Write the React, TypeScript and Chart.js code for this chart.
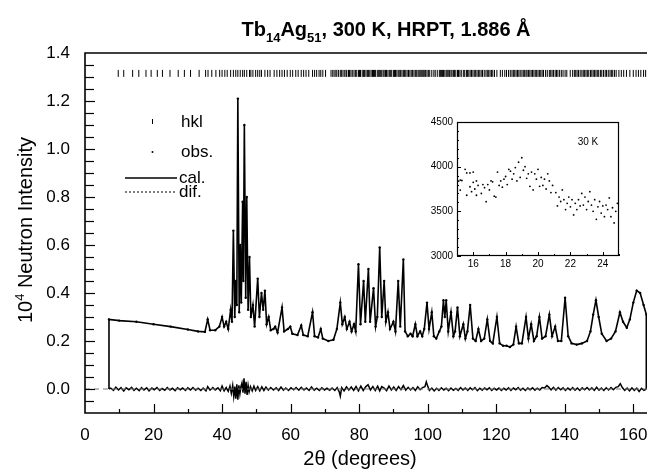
import React, { useEffect, useRef } from "react";
import { Chart, registerables } from "chart.js";
Chart.register(...registerables);

const FONT = "'Liberation Sans', Arial, Helvetica, sans-serif";

// ---------- main axes ----------
const xTickLabels = [0, 20, 40, 60, 80, 100, 120, 140, 160];
const xMinorTicks = [10, 30, 50, 70, 90, 110, 130, 150];
const yTickLabels = [0, 0.2, 0.4, 0.6, 0.8, 1.0, 1.2, 1.4];
const yAllTicks = [-0.05, 0, 0.05, 0.1, 0.15, 0.2, 0.25, 0.3, 0.35, 0.4, 0.45, 0.5, 0.55, 0.6, 0.65, 0.7, 0.75, 0.8, 0.85, 0.9, 0.95, 1.0, 1.05, 1.1, 1.15, 1.2, 1.25, 1.3, 1.35];

// ---------- calculated profile (2θ, intensity /10^4) ----------
const calcX = [7.0, 7.0, 10, 15, 20, 25, 30, 33, 35.0, 35.8, 36.5, 38, 39.2, 40.0, 40.6, 41.2, 41.8, 42.5, 42.9, 43.3, 43.7, 44.0, 44.3, 44.6, 45.0, 45.3, 45.6, 46.0, 46.2, 46.5, 46.9, 47.2, 47.6, 48.0, 48.4, 49.0, 49.5, 50.4, 50.9, 51.5, 52.0, 52.5, 53.0, 53.6, 54.2, 55.0, 55.5, 56.2, 57.5, 58.1, 59.2, 59.9, 60.5, 62, 63.1, 63.7, 65, 66.4, 67.0, 68.0, 68.8, 69.4, 71, 72.5, 73.5, 74.5, 75.1, 75.8, 76.4, 77.2, 77.8, 78.5, 79.0, 79.8, 80.4, 81.3, 81.8, 82.7, 83.2, 84.2, 84.8, 85.3, 86.0, 86.6, 87.3, 87.8, 88.4, 89.0, 90.0, 90.6, 91.4, 92.0, 92.9, 93.4, 94.2, 95.0, 95.6, 96.4, 97.0, 97.8, 98.4, 99.0, 99.8, 100.4, 101.2, 101.8, 102.5, 103.4, 104.0, 104.6, 105.0, 105.4, 106.0, 106.8, 107.5, 108.0, 108.7, 109.4, 110.4, 111.0, 111.6, 112.4, 113.2, 114.0, 114.8, 115.6, 116.5, 117.4, 118.2, 119.0, 120.2, 121.0, 122.0, 123.0, 124.0, 125.0, 125.8, 126.6, 127.5, 128.7, 129.4, 130.2, 131.0, 131.8, 132.6, 133.4, 134.4, 135.5, 136.3, 137.2, 138.0, 139.0, 140.1, 141.0, 142.0, 143.5, 145.0, 146.5, 147.5, 148.3, 149.1, 149.9, 150.8, 152.2, 153.5, 154.8, 156.1, 157.0, 158.1, 159.0, 160.0, 161.0, 162.0, 163.0, 163.8, 163.8];
const calcY = [0.0, 0.29, 0.285, 0.28, 0.27, 0.26, 0.248, 0.24, 0.238, 0.29, 0.245, 0.245, 0.26, 0.30, 0.26, 0.28, 0.25, 0.33, 0.28, 0.66, 0.30, 0.45, 0.35, 1.21, 0.32, 0.60, 0.36, 0.78, 0.45, 1.10, 0.38, 0.80, 0.33, 0.55, 0.30, 0.35, 0.26, 0.46, 0.30, 0.40, 0.33, 0.41, 0.27, 0.30, 0.245, 0.25, 0.26, 0.235, 0.34, 0.24, 0.25, 0.26, 0.23, 0.225, 0.265, 0.225, 0.22, 0.32, 0.22, 0.215, 0.25, 0.21, 0.20, 0.205, 0.25, 0.36, 0.27, 0.30, 0.25, 0.28, 0.24, 0.27, 0.24, 0.52, 0.27, 0.45, 0.28, 0.50, 0.28, 0.42, 0.26, 0.30, 0.59, 0.30, 0.45, 0.28, 0.32, 0.25, 0.28, 0.24, 0.45, 0.26, 0.54, 0.24, 0.22, 0.23, 0.22, 0.27, 0.22, 0.24, 0.22, 0.25, 0.36, 0.25, 0.32, 0.22, 0.21, 0.24, 0.26, 0.37, 0.30, 0.37, 0.24, 0.32, 0.22, 0.24, 0.34, 0.22, 0.27, 0.21, 0.24, 0.35, 0.21, 0.20, 0.25, 0.20, 0.21, 0.29, 0.20, 0.19, 0.30, 0.19, 0.18, 0.18, 0.175, 0.185, 0.26, 0.19, 0.19, 0.30, 0.21, 0.27, 0.20, 0.22, 0.30, 0.21, 0.22, 0.31, 0.22, 0.26, 0.20, 0.20, 0.38, 0.22, 0.19, 0.185, 0.19, 0.20, 0.24, 0.31, 0.37, 0.30, 0.23, 0.20, 0.21, 0.24, 0.32, 0.28, 0.255, 0.29, 0.36, 0.41, 0.40, 0.35, 0.31, 0.0];

// ---------- difference curve ----------
const diffX = [7.0, 7.5, 8.3, 9.0, 9.8, 10.5, 11.3, 12.0, 12.8, 13.6, 14.3, 15.0, 15.8, 16.5, 17.2, 18.0, 18.7, 19.5, 20.2, 21.0, 21.8, 22.5, 23.3, 24.0, 24.8, 25.5, 26.3, 27.0, 27.8, 28.5, 29.3, 30.0, 30.8, 31.5, 32.3, 33.0, 33.8, 34.5, 35.3, 35.8, 36.5, 37.3, 38.0, 38.8, 39.5, 40.0, 40.6, 41.2, 41.8, 42.3, 42.7, 43.1, 43.4, 43.7, 44.0, 44.3, 44.6, 44.9, 45.2, 45.5, 45.8, 46.1, 46.4, 46.7, 47.0, 47.3, 47.6, 47.9, 48.3, 48.8, 49.3, 49.8, 50.4, 51.0, 51.6, 52.2, 52.8, 53.5, 54.2, 55.0, 55.8, 56.5, 57.2, 57.9, 58.6, 59.4, 60.1, 60.9, 61.6, 62.4, 63.1, 63.9, 64.6, 65.4, 66.1, 66.9, 67.6, 68.4, 69.1, 69.9, 70.6, 71.4, 72.1, 72.9, 73.6, 74.2, 74.5, 74.9, 75.6, 76.3, 77.0, 77.7, 78.4, 79.1, 79.8, 80.5, 81.2, 81.9, 82.6, 83.3, 84.0, 84.7, 85.4, 86.0, 86.6, 87.3, 88.0, 88.7, 89.4, 90.1, 90.8, 91.5, 92.2, 92.9, 93.6, 94.3, 95.0, 95.7, 96.4, 97.1, 97.8, 98.5, 99.2, 99.6, 100.0, 100.5, 101.2, 101.9, 102.6, 103.3, 104.0, 104.7, 105.4, 106.1, 106.8, 107.5, 108.2, 108.9, 109.6, 110.3, 111.0, 111.7, 112.4, 113.1, 113.8, 114.5, 115.2, 115.9, 116.6, 117.3, 118.0, 118.7, 119.4, 120.1, 120.8, 121.5, 122.2, 122.9, 123.6, 124.3, 125.0, 125.7, 126.4, 127.1, 127.8, 128.5, 129.2, 129.9, 130.6, 131.3, 132.0, 132.7, 133.4, 134.1, 134.8, 135.3, 136.0, 136.7, 137.4, 138.1, 138.8, 139.5, 140.2, 140.9, 141.6, 142.3, 143.0, 143.7, 144.4, 145.1, 145.8, 146.5, 147.2, 147.9, 148.6, 149.3, 150.0, 150.7, 151.4, 152.1, 152.8, 153.5, 154.2, 154.9, 155.6, 156.2, 156.8, 157.5, 158.2, 158.9, 159.6, 160.3, 161.0, 161.7, 162.4, 163.1, 163.8];
const diffY = [0.0, 0.004, -0.006, 0.008, -0.004, 0.006, -0.008, 0.005, -0.003, 0.007, -0.006, 0.003, -0.007, 0.006, -0.004, 0.005, -0.008, 0.004, -0.003, 0.006, -0.006, 0.002, -0.005, 0.006, -0.004, 0.003, -0.007, 0.005, -0.003, 0.004, -0.006, 0.005, -0.004, 0.006, -0.005, 0.003, -0.006, 0.004, -0.008, 0.01, -0.005, 0.006, -0.004, 0.005, -0.007, 0.012, -0.008, 0.006, -0.01, 0.012, -0.018, 0.015, -0.03, 0.01, -0.04, 0.02, -0.045, 0.015, -0.02, 0.01, 0.025, -0.015, 0.045, -0.02, 0.03, -0.025, 0.015, -0.012, 0.01, -0.008, 0.012, -0.006, 0.01, -0.008, 0.009, -0.006, 0.008, -0.005, 0.006, -0.004, 0.005, -0.006, 0.008, -0.005, 0.004, -0.006, 0.005, -0.003, 0.006, -0.005, 0.007, -0.004, 0.004, -0.006, 0.008, -0.005, 0.003, -0.006, 0.005, -0.004, 0.003, -0.005, 0.004, -0.006, 0.006, -0.012, -0.03, 0.006, -0.008, 0.009, -0.004, 0.008, -0.006, 0.01, -0.008, 0.012, -0.006, 0.009, 0.018, -0.004, 0.01, -0.006, 0.012, -0.008, 0.01, 0.004, -0.007, 0.012, -0.004, 0.008, -0.006, 0.01, -0.003, 0.014, -0.005, 0.007, -0.004, 0.006, -0.006, 0.009, -0.003, 0.006, 0.01, 0.03, 0.012, -0.006, 0.004, -0.008, 0.003, -0.006, 0.005, -0.004, 0.003, -0.007, 0.004, -0.005, 0.002, -0.006, 0.006, -0.004, 0.004, -0.006, 0.005, -0.003, 0.006, -0.007, 0.003, -0.005, 0.004, -0.003, 0.005, -0.006, 0.003, -0.004, 0.004, -0.006, 0.003, -0.004, 0.005, -0.006, 0.004, -0.003, 0.006, -0.005, 0.003, -0.006, 0.004, -0.003, 0.005, -0.005, 0.003, -0.004, 0.006, 0.004, 0.014, 0.008, -0.004, 0.007, -0.005, 0.006, -0.003, 0.005, -0.006, 0.004, -0.004, 0.006, -0.005, 0.004, -0.006, 0.005, -0.003, 0.006, -0.004, 0.005, -0.006, 0.007, -0.005, 0.004, -0.006, 0.005, -0.004, 0.006, -0.003, 0.007, 0.01, 0.022, 0.006, -0.006, 0.004, -0.008, 0.005, -0.006, 0.004, -0.01, 0.003, -0.006, 0.0];

// ---------- Bragg reflection positions (hkl) ----------
const hklLevel = 1.315;
const hklPos = [9.7, 11.3, 13.9, 15.7, 17.8, 19.3, 21.1, 22.6, 24.8, 27.2, 29.0, 30.8, 33.3, 35.2, 35.9, 37.0, 38.2, 39.3, 40.0, 40.8, 41.5, 42.5, 43.3, 44.0, 44.6, 45.3, 46.0, 46.5, 47.2, 48.0, 48.4, 49.0, 49.8, 50.4, 51.0, 51.5, 52.5, 53.3, 54.0, 55.2, 56.0, 56.8, 57.5, 58.2, 59.0, 59.9, 60.6, 61.5, 62.2, 63.1, 63.8, 64.5, 65.3, 66.4, 67.0, 67.6, 68.3, 68.8, 69.4, 70.2, 71.8, 72.3, 72.7, 73.2, 73.5, 74.0, 74.5, 74.9, 75.3, 75.8, 76.2, 76.4, 76.9, 77.2, 77.6, 78.0, 78.5, 78.9, 79.3, 79.8, 80.1, 80.4, 80.9, 81.3, 81.6, 82.0, 82.4, 82.7, 83.1, 83.5, 83.9, 84.2, 84.5, 84.8, 85.3, 85.7, 86.0, 86.3, 86.6, 87.0, 87.3, 87.7, 88.0, 88.4, 88.8, 89.1, 89.5, 90.0, 90.3, 90.6, 91.0, 91.4, 91.7, 92.1, 92.5, 92.9, 93.2, 93.6, 94.0, 94.4, 94.8, 95.2, 95.6, 96.0, 96.4, 96.8, 97.2, 97.5, 97.8, 98.1, 98.4, 98.7, 99.0, 99.4, 99.8, 100.2, 100.6, 101.2, 101.8, 102.2, 102.8, 103.4, 103.7, 104.0, 104.3, 104.6, 105.0, 105.4, 105.7, 106.0, 106.4, 106.8, 107.1, 107.5, 107.8, 108.2, 108.7, 109.0, 109.4, 109.8, 110.4, 110.8, 111.3, 111.6, 112.0, 112.4, 112.8, 113.2, 113.6, 114.0, 114.4, 114.8, 115.2, 115.6, 116.0, 116.5, 117.0, 117.4, 117.8, 118.2, 118.6, 119.0, 119.5, 120.2, 121.2, 121.8, 122.5, 123.0, 123.6, 124.1, 124.6, 125.0, 125.4, 125.8, 126.2, 126.6, 127.0, 127.5, 127.9, 128.3, 128.7, 129.0, 129.4, 129.8, 130.2, 130.6, 131.0, 131.4, 131.8, 132.2, 132.6, 133.0, 133.4, 133.8, 134.4, 134.9, 135.5, 135.9, 136.3, 136.7, 137.2, 137.6, 138.0, 138.5, 139.0, 139.5, 140.1, 140.6, 141.6, 142.3, 142.8, 143.2, 143.6, 144.0, 144.5, 145.0, 145.4, 145.8, 146.2, 146.6, 147.0, 147.5, 147.9, 148.3, 148.7, 149.1, 149.5, 149.9, 150.4, 150.8, 151.3, 151.8, 152.2, 152.7, 153.2, 153.6, 154.0, 154.5, 155.0, 155.8, 156.5, 157.2, 158.0, 159.0, 160.0, 160.8, 161.5, 162.2, 163.0, 163.6];

// ---------- inset (30 K) ----------
const insetXTickLabels = [16, 18, 20, 22, 24];
const insetXMinor = [15, 17, 19, 21, 23, 25];
const insetYTickLabels = [3000, 3500, 4000, 4500];
const insetYMinor = [3100, 3200, 3300, 3400, 3600, 3700, 3800, 3900, 4100, 4200, 4300, 4400];
const insetX = [15.1, 15.2, 15.3, 15.2, 15.5, 15.6, 15.6, 15.8, 15.8, 15.9, 16.0, 16.0, 16.1, 16.2, 16.2, 16.3, 16.5, 16.6, 16.7, 16.8, 16.9, 17.0, 17.1, 17.2, 17.3, 17.4, 17.5, 17.6, 17.7, 17.8, 17.9, 18.0, 18.1, 18.2, 18.3, 18.4, 18.5, 18.6, 18.7, 18.8, 18.9, 19.0, 19.1, 19.2, 19.3, 19.4, 19.5, 19.6, 19.7, 19.8, 19.9, 20.0, 20.1, 20.2, 20.3, 20.4, 20.5, 20.6, 20.7, 20.8, 20.9, 21.1, 21.2, 21.3, 21.4, 21.5, 21.6, 21.7, 21.8, 21.9, 22.0, 22.1, 22.2, 22.3, 22.4, 22.5, 22.6, 22.7, 22.8, 22.9, 23.0, 23.1, 23.2, 23.3, 23.4, 23.5, 23.6, 23.7, 23.8, 23.9, 24.0, 24.1, 24.2, 24.3, 24.4, 24.5, 24.6, 24.7, 24.8, 24.9];
const insetY = [3839, 3850, 3845, 3738, 3970, 3930, 3680, 3775, 3930, 3720, 3940, 3825, 3750, 3840, 3680, 3790, 3700, 3800, 3765, 3608, 3800, 3740, 3840, 3830, 3670, 3660, 3940, 3790, 3840, 3770, 3860, 3890, 3800, 3970, 3950, 3860, 3920, 3990, 3840, 4050, 3880, 4100, 3960, 4000, 3870, 3920, 3780, 3940, 3740, 3920, 3860, 3970, 3780, 3880, 3790, 3860, 3750, 3920, 3840, 3710, 3790, 3710, 3560, 3660, 3610, 3740, 3630, 3520, 3590, 3660, 3550, 3630, 3460, 3590, 3520, 3630, 3560, 3700, 3570, 3660, 3520, 3610, 3720, 3570, 3500, 3630, 3410, 3550, 3610, 3480, 3560, 3440, 3570, 3520, 3650, 3440, 3540, 3370, 3500, 3590];

const line = (ctx: CanvasRenderingContext2D, x1: number, y1: number, x2: number, y2: number) => {
  ctx.beginPath();
  ctx.moveTo(x1, y1);
  ctx.lineTo(x2, y2);
  ctx.stroke();
};

const mainDecor = {
  id: "mainDecor",
  afterDraw(chart: any) {
    const { ctx, chartArea: a, scales } = chart;
    const xs = scales.x;
    const ys = scales.y;
    ctx.save();
    ctx.strokeStyle = "#000";
    ctx.fillStyle = "#000";
    // frame
    ctx.lineWidth = 1.6;
    ctx.beginPath();
    ctx.moveTo(a.right, a.top);
    ctx.lineTo(a.left, a.top);
    ctx.lineTo(a.left, a.bottom);
    ctx.lineTo(a.right, a.bottom);
    ctx.stroke();
    // ticks
    ctx.lineWidth = 1.2;
    xTickLabels.forEach((v) => {
      const px = Math.round(xs.getPixelForValue(v)) + 0.5;
      if (v > 0) line(ctx, px, a.bottom, px, a.bottom - 9);
    });
    xMinorTicks.forEach((v) => {
      const px = Math.round(xs.getPixelForValue(v)) + 0.5;
      line(ctx, px, a.bottom, px, a.bottom - 4);
    });
    yAllTicks.forEach((v) => {
      const py = Math.round(ys.getPixelForValue(v)) + 0.5;
      const major = yTickLabels.some((t) => Math.abs(t - v) < 1e-6);
      line(ctx, a.left, py, a.left + (major ? 10 : 9), py);
    });

    // title with subscripts
    const big = "bold 20px " + FONT;
    const small = "bold 13px " + FONT;
    const segs = [
      { t: "Tb", s: false },
      { t: "14", s: true },
      { t: "Ag", s: false },
      { t: "51", s: true },
      { t: ", 300 K, HRPT, 1.886 Å", s: false },
    ];
    let total = 0;
    segs.forEach((sg) => {
      ctx.font = sg.s ? small : big;
      total += ctx.measureText(sg.t).width;
    });
    let tx = 386 - total / 2;
    const tBase = 36;
    ctx.textBaseline = "alphabetic";
    ctx.textAlign = "left";
    segs.forEach((sg) => {
      ctx.font = sg.s ? small : big;
      ctx.fillText(sg.t, tx, sg.s ? tBase + 6 : tBase);
      tx += ctx.measureText(sg.t).width;
    });

    // x-axis title
    ctx.font = "20px " + FONT;
    ctx.textAlign = "center";
    ctx.textBaseline = "middle";
    ctx.fillText("2θ (degrees)", 360, 459);

    // y-axis title with superscript
    ctx.save();
    ctx.translate(25, 230);
    ctx.rotate(-Math.PI / 2);
    const ySegs = [
      { t: "10", f: "20px " + FONT, dy: 0 },
      { t: "4", f: "13px " + FONT, dy: -8 },
      { t: " Neutron Intensity", f: "20px " + FONT, dy: 0 },
    ];
    let yw = 0;
    ySegs.forEach((sg) => {
      ctx.font = sg.f;
      yw += ctx.measureText(sg.t).width;
    });
    let yx = -yw / 2;
    ctx.textAlign = "left";
    ctx.textBaseline = "alphabetic";
    ySegs.forEach((sg) => {
      ctx.font = sg.f;
      ctx.fillText(sg.t, yx, 7 + sg.dy);
      yx += ctx.measureText(sg.t).width;
    });
    ctx.restore();

    // legend
    ctx.font = "17px " + FONT;
    ctx.textAlign = "left";
    ctx.textBaseline = "middle";
    ctx.lineWidth = 1;
    line(ctx, 152.5, 119, 152.5, 124);
    ctx.fillText("hkl", 181, 122);
    ctx.beginPath();
    ctx.arc(152.5, 152, 1, 0, Math.PI * 2);
    ctx.fill();
    ctx.fillText("obs.", 181, 152);
    ctx.lineWidth = 1.3;
    line(ctx, 125, 178, 177, 178);
    ctx.fillText("cal.", 179, 178);
    ctx.lineWidth = 1;
    ctx.setLineDash([2, 2]);
    line(ctx, 125, 192, 177, 192);
    ctx.setLineDash([]);
    ctx.fillText("dif.", 179, 192);
    ctx.restore();
  },
};

const insetDecor = {
  id: "insetDecor",
  afterDraw(chart: any) {
    const { ctx, chartArea: a, scales } = chart;
    const xs = scales.x;
    const ys = scales.y;
    ctx.save();
    ctx.strokeStyle = "#000";
    ctx.fillStyle = "#000";
    ctx.lineWidth = 1.2;
    ctx.strokeRect(Math.round(a.left) + 0.5, Math.round(a.top) + 0.5, Math.round(a.width) - 1, Math.round(a.height) - 1);
    ctx.lineWidth = 1;
    insetXTickLabels.forEach((v) => {
      const px = Math.round(xs.getPixelForValue(v)) + 0.5;
      line(ctx, px, a.bottom, px, a.bottom - 4);
    });
    insetXMinor.forEach((v) => {
      const px = Math.round(xs.getPixelForValue(v)) + 0.5;
      line(ctx, px, a.bottom, px, a.bottom - 2);
    });
    insetYTickLabels.forEach((v) => {
      const py = Math.round(ys.getPixelForValue(v)) + 0.5;
      line(ctx, a.left, py, a.left + 4, py);
    });
    insetYMinor.forEach((v) => {
      const py = Math.round(ys.getPixelForValue(v)) + 0.5;
      line(ctx, a.left, py, a.left + 2, py);
    });
    ctx.font = "10px " + FONT;
    ctx.textAlign = "center";
    ctx.textBaseline = "middle";
    ctx.fillText("30 K", 168, 32);
    ctx.restore();
  },
};

export default function App() {
  const mainRef = useRef<HTMLCanvasElement>(null);
  const insetRef = useRef<HTMLCanvasElement>(null);

  useEffect(() => {
    Chart.defaults.font.family = FONT;
    Chart.defaults.color = "#000";

    const calcPts = calcX.map((x, i) => ({ x, y: calcY[i] }));
    const obsPts = calcX.slice(1, -1).map((x, i) => ({ x, y: calcY[i + 1] }));
    const diffPts = diffX.map((x, i) => ({ x, y: diffY[i] }));
    const hklPts = hklPos.map((x) => ({ x, y: hklLevel }));

    const main = new Chart(mainRef.current!, {
      type: "scatter",
      data: {
        datasets: [
          {
            label: "zero",
            data: [{ x: 0, y: 0 }, { x: 164, y: 0 }],
            showLine: true,
            borderColor: "#777",
            borderWidth: 1,
            borderDash: [5, 4],
            pointRadius: 0,
          },
          {
            label: "dif.",
            data: diffPts,
            showLine: true,
            borderColor: "#000",
            borderWidth: 1.5,
            pointRadius: 0,
          },
          {
            label: "cal.",
            data: calcPts,
            showLine: true,
            borderColor: "#000",
            borderWidth: 1.6,
            pointRadius: 0,
          },
          {
            label: "obs.",
            data: obsPts,
            showLine: false,
            pointRadius: 1.2,
            pointBackgroundColor: "#000",
            pointBorderWidth: 0,
          },
          {
            label: "hkl",
            data: hklPts,
            showLine: false,
            pointStyle: "line",
            rotation: 90,
            pointRadius: 3.5,
            borderColor: "#000",
            borderWidth: 1,
          },
        ],
      },
      options: {
        responsive: false,
        animation: false,
        events: [],
        layout: { autoPadding: false, padding: { top: 53, right: 0, left: 0, bottom: 0 } },
        plugins: { legend: { display: false }, tooltip: { enabled: false }, title: { display: false } },
        scales: {
          x: {
            type: "linear",
            min: 0,
            max: 164,
            grid: { display: false, drawTicks: false },
            border: { display: false },
            afterBuildTicks: (s: any) => {
              s.ticks = xTickLabels.map((v) => ({ value: v }));
            },
            afterFit: (s: any) => {
              s.height = 57;
              s.paddingLeft = 0;
              s.paddingRight = 0;
            },
            ticks: { font: { size: 17 }, padding: 12, maxRotation: 0, color: "#000" },
          },
          y: {
            type: "linear",
            min: -0.1,
            max: 1.4,
            grid: { display: false, drawTicks: false },
            border: { display: false },
            afterBuildTicks: (s: any) => {
              s.ticks = yTickLabels.map((v) => ({ value: v }));
            },
            afterFit: (s: any) => {
              s.width = 85;
              s.paddingTop = 0;
              s.paddingBottom = 0;
            },
            ticks: {
              font: { size: 17 },
              padding: 15,
              color: "#000",
              callback: (v: any) => Number(v).toFixed(1),
            },
          },
        },
      },
      plugins: [mainDecor],
    });

    const insetPts = insetX.map((x, i) => ({ x, y: insetY[i] }));
    const inset = new Chart(insetRef.current!, {
      type: "scatter",
      data: {
        datasets: [
          {
            label: "30 K",
            data: insetPts,
            pointRadius: 0.9,
            pointBackgroundColor: "#000",
            pointBorderWidth: 0,
          },
        ],
      },
      options: {
        responsive: false,
        animation: false,
        events: [],
        layout: { autoPadding: false, padding: { top: 12, right: 11, left: 0, bottom: 0 } },
        plugins: { legend: { display: false }, tooltip: { enabled: false } },
        scales: {
          x: {
            type: "linear",
            min: 15,
            max: 25,
            grid: { display: false, drawTicks: false },
            border: { display: false },
            afterBuildTicks: (s: any) => {
              s.ticks = insetXTickLabels.map((v) => ({ value: v }));
            },
            afterFit: (s: any) => {
              s.height = 19;
              s.paddingLeft = 0;
              s.paddingRight = 0;
            },
            ticks: { font: { size: 10 }, padding: 2, maxRotation: 0, color: "#000", callback: (v: any) => String(v) },
          },
          y: {
            type: "linear",
            min: 3000,
            max: 4500,
            grid: { display: false, drawTicks: false },
            border: { display: false },
            afterBuildTicks: (s: any) => {
              s.ticks = insetYTickLabels.map((v) => ({ value: v }));
            },
            afterFit: (s: any) => {
              s.width = 37;
              s.paddingTop = 0;
              s.paddingBottom = 0;
            },
            ticks: { font: { size: 10 }, padding: 4, color: "#000", callback: (v: any) => String(v) },
          },
        },
      },
      plugins: [insetDecor],
    });

    return () => {
      main.destroy();
      inset.destroy();
    };
  }, []);

  return (
    <div style={{ position: "absolute", left: 0, top: 0, width: 647, height: 470, overflow: "hidden", background: "#fff" }}>
      <canvas ref={mainRef} width={647} height={470} style={{ position: "absolute", left: 0, top: 0 }} />
      <canvas ref={insetRef} width={210} height={165} style={{ position: "absolute", left: 420, top: 110 }} />
    </div>
  );
}
